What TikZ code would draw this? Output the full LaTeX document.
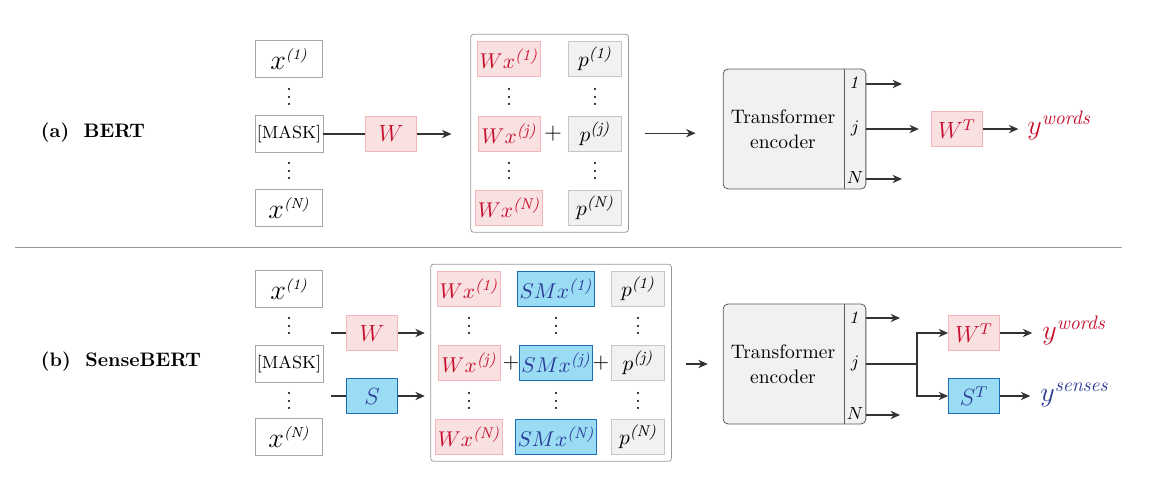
\documentclass[tikz,border=0pt]{standalone}
\usepackage{amsmath}
\usepackage{amssymb}
\usepackage{tikz}
\usetikzlibrary{fit,arrows.meta,positioning}
\usepackage{xcolor}
\definecolor{wfill}{HTML}{F9E1E2}
\definecolor{wdraw}{HTML}{F2B6B8}
\definecolor{wtext}{HTML}{C8102E}
\definecolor{sfill}{HTML}{9BDCF5}
\definecolor{sdraw}{HTML}{1C6FB3}
\definecolor{stext}{HTML}{2B3A96}
\definecolor{pfill}{HTML}{F0F1F3}
\definecolor{pdraw}{HTML}{C4C6C8}
\definecolor{linecol}{HTML}{333333}

\newcommand{\mfont}{\fontsize{10.95}{13}\selectfont}
\newcommand{\xfont}{\fontsize{15}{17}\selectfont}
\newcommand{\xsup}[1]{^{\mbox{\fontsize{7.5}{9}\selectfont\itshape(#1)}}}
\newcommand{\vdotz}{\vbox{\baselineskip4pt\lineskiplimit0pt\hbox{.}\hbox{.}\hbox{.}}}

\begin{document}
\begin{tikzpicture}[x=0.018cm,y=-0.018cm,
  every node/.style={font=\mfont},
  inp/.style={draw=gray!70,fill=white,minimum width=1.22cm,minimum height=0.67cm,inner sep=1pt,font=\xfont},
  wmat/.style={draw=wdraw,fill=wfill,text=wtext,minimum width=0.92cm,minimum height=0.64cm,inner sep=1pt},
  smat/.style={draw=sdraw,fill=sfill,text=stext,minimum width=0.92cm,minimum height=0.64cm,inner sep=1pt},
  posbox/.style={draw=pdraw,fill=pfill,minimum width=0.95cm,minimum height=0.62cm,inner sep=1pt},
  emb/.style={draw=gray!80,rounded corners=1.5pt,inner sep=0.12cm},
  enc/.style={draw=black!65,fill=pfill,rounded corners=2.5pt,minimum width=2.57cm,minimum height=2.16cm},
  lbl/.style={font=\bfseries\normalsize},
  idx/.style={font=\small,inner sep=1pt},
  dots/.style={font=\normalsize,inner sep=0pt},
  plus/.style={inner sep=0pt},
  outw/.style={font=\Large,text=wtext,inner sep=1pt,anchor=base west},
  outs/.style={font=\Large,text=stext,inner sep=1pt,anchor=base west},
  conn/.style={draw=linecol,line width=0.55pt},
  arr/.style={conn,-{Stealth[length=1.7mm,width=1.5mm]}}
]
\useasboundingbox (0,0) rectangle (1156,480);

% (a) BERT
\node[lbl] (labA) at (93,133) {(a)\hspace{2.6mm}BERT};
\node[inp] (xA1) at (289,59) {$x\xsup{1}$};
\node[dots] (dA1) at (289,97) {\vdotz};
\node[inp,font=\small] (mA) at (289,134) {[MASK]};
\node[dots] (dA2) at (289,171) {\vdotz};
\node[inp] (xAN) at (289,208) {$x\xsup{N}$};
\node[wmat,font=\large] (wA) at (391,134) {$W$};

\node[wmat,minimum width=1.12cm] (wxA1) at (509,59) {$Wx^{\textit{(1)}}$};
\node[dots] (dA3) at (509,97) {\vdotz};
\node[wmat,minimum width=1.12cm] (wxAj) at (509,134) {$Wx^{\textit{(j)}}$};
\node[dots] (dA4) at (509,171) {\vdotz};
\node[wmat,minimum width=1.12cm] (wxAN) at (509,208) {$Wx^{\textit{(N)}}$};
\node[plus,font=\large] (plA) at (553,134) {$+$};
\node[posbox] (pA1) at (595,59) {$p^{\textit{(1)}}$};
\node[dots] (dA5) at (595,97) {\vdotz};
\node[posbox] (pAj) at (595,134) {$p^{\textit{(j)}}$};
\node[dots] (dA6) at (595,171) {\vdotz};
\node[posbox] (pAN) at (595,208) {$p^{\textit{(N)}}$};
\node[emb,fit=(wxA1)(pAN)] (embA) {};

\node[enc] (encA) at (794.5,129) {};
\node[align=center,font=\normalsize] (encAt) at (783,129) {Transformer\\[1pt]encoder};
\draw[draw=black!65] (encA.north east) ++(-22,0) coordinate (dvA) -- (dvA |- encA.south);
\node[idx] (oA1) at (855,83) {$\mathit{1}$};
\node[idx] (oAj) at (855,128) {$j$};
\node[idx] (oAN) at (855,178) {$N$};
\coordinate (eA1) at (902,84);
\coordinate (eAN) at (902,179);
\node[wmat,font=\large] (wtA) at (957,129) {$W^T$};
\node[outw] (yA) at (1025,135) {$y^{\textit{words}}$};

\draw[conn] (mA) -- (wA);
\draw[arr,shorten >=0.34cm] (wA) -- (wA -| embA.west);
\draw[arr,shorten <=0.29cm,shorten >=0.49cm] (embA) -- (embA -| encA.west);
\draw[arr] (encA.east |- eA1) -- (eA1);
\draw[arr] (encA.east |- eAN) -- (eAN);
\draw[arr,shorten >=0.22cm] (encA.east |- wtA) -- (wtA);
\draw[arr,shorten >=0.12cm] (wtA) -- (yA.west |- wtA);

% separator
\draw[gray!80,line width=0.5pt] (15,247) -- (1122,247);

% (b) SenseBERT
\node[lbl] (labB) at (121,362) {(b)\hspace{2.6mm}SenseBERT};
\node[inp] (xB1) at (289,289) {$x\xsup{1}$};
\node[dots] (dB1) at (289,326) {\vdotz};
\node[inp,font=\small] (mB) at (289,364) {[MASK]};
\node[dots] (dB2) at (289,401) {\vdotz};
\node[inp] (xBN) at (289,437) {$x\xsup{N}$};
\coordinate (iW) at (331,333);
\coordinate (iS) at (331,396);
\node[wmat,font=\large] (wB) at (372,333) {$W$};
\node[smat,font=\large] (sB) at (372,396) {$S$};

\node[wmat,minimum width=1.12cm] (wxB1) at (469,289) {$Wx^{\textit{(1)}}$};
\node[dots] (dB3) at (469,326) {\vdotz};
\node[wmat,minimum width=1.12cm] (wxBj) at (469,363) {$Wx^{\textit{(j)}}$};
\node[dots] (dB4) at (469,401) {\vdotz};
\node[wmat,minimum width=1.12cm] (wxBN) at (469,437) {$Wx^{\textit{(N)}}$};
\node[plus] (plB1) at (511,363) {$+$};
\node[smat,minimum width=1.21cm] (smB1) at (556,289) {$SMx^{\textit{(1)}}$};
\node[dots] (dB5) at (556,326) {\vdotz};
\node[smat,minimum width=1.21cm] (smBj) at (556,363) {$SMx^{\textit{(j)}}$};
\node[dots] (dB6) at (556,401) {\vdotz};
\node[smat,minimum width=1.21cm] (smBN) at (556,437) {$SMx^{\textit{(N)}}$};
\node[plus] (plB2) at (601,363) {$+$};
\node[posbox] (pB1) at (638,289) {$p^{\textit{(1)}}$};
\node[dots] (dB7) at (638,326) {\vdotz};
\node[posbox] (pBj) at (638,363) {$p^{\textit{(j)}}$};
\node[dots] (dB8) at (638,401) {\vdotz};
\node[posbox] (pBN) at (638,437) {$p^{\textit{(N)}}$};
\node[emb,fit=(wxB1)(pBN)] (embB) {};

\node[enc] (encB) at (794.5,364) {};
\node[align=center,font=\normalsize] (encBt) at (783,364) {Transformer\\[1pt]encoder};
\draw[draw=black!65] (encB.north east) ++(-22,0) coordinate (dvB) -- (dvB |- encB.south);
\node[idx] (oB1) at (855,318) {$\mathit{1}$};
\node[idx] (oBj) at (855,363) {$j$};
\node[idx] (oBN) at (855,413) {$N$};
\coordinate (eB1) at (900,318);
\coordinate (eBN) at (900,415);
\coordinate (split) at (917,364);
\node[wmat,font=\large] (wtB) at (974,333) {$W^T$};
\node[smat,font=\large] (stB) at (974,396) {$S^T$};
\node[outw] (yBw) at (1040,340) {$y^{\textit{words}}$};
\node[outs] (yBs) at (1038,402) {$y^{\textit{senses}}$};

\draw[conn] (iW) -- (wB);
\draw[conn] (iS) -- (sB);
\draw[arr,shorten >=0.1cm] (wB) -- (wB -| embB.west);
\draw[arr,shorten >=0.1cm] (sB) -- (sB -| embB.west);
\draw[arr,shorten <=0.25cm,shorten >=0.27cm] (embB.east |- encB) -- (encB);
\draw[arr] (encB.east |- eB1) -- (eB1);
\draw[arr] (encB.east |- eBN) -- (eBN);
\draw[conn] (encB.east |- split) -- (split);
\draw[arr] (split) |- (wtB);
\draw[arr] (split) |- (stB);
\draw[arr,shorten >=0.14cm] (wtB) -- (yBw.west |- wtB);
\draw[arr,shorten >=0.14cm] (stB) -- (yBs.west |- stB);
\end{tikzpicture}
\end{document}
